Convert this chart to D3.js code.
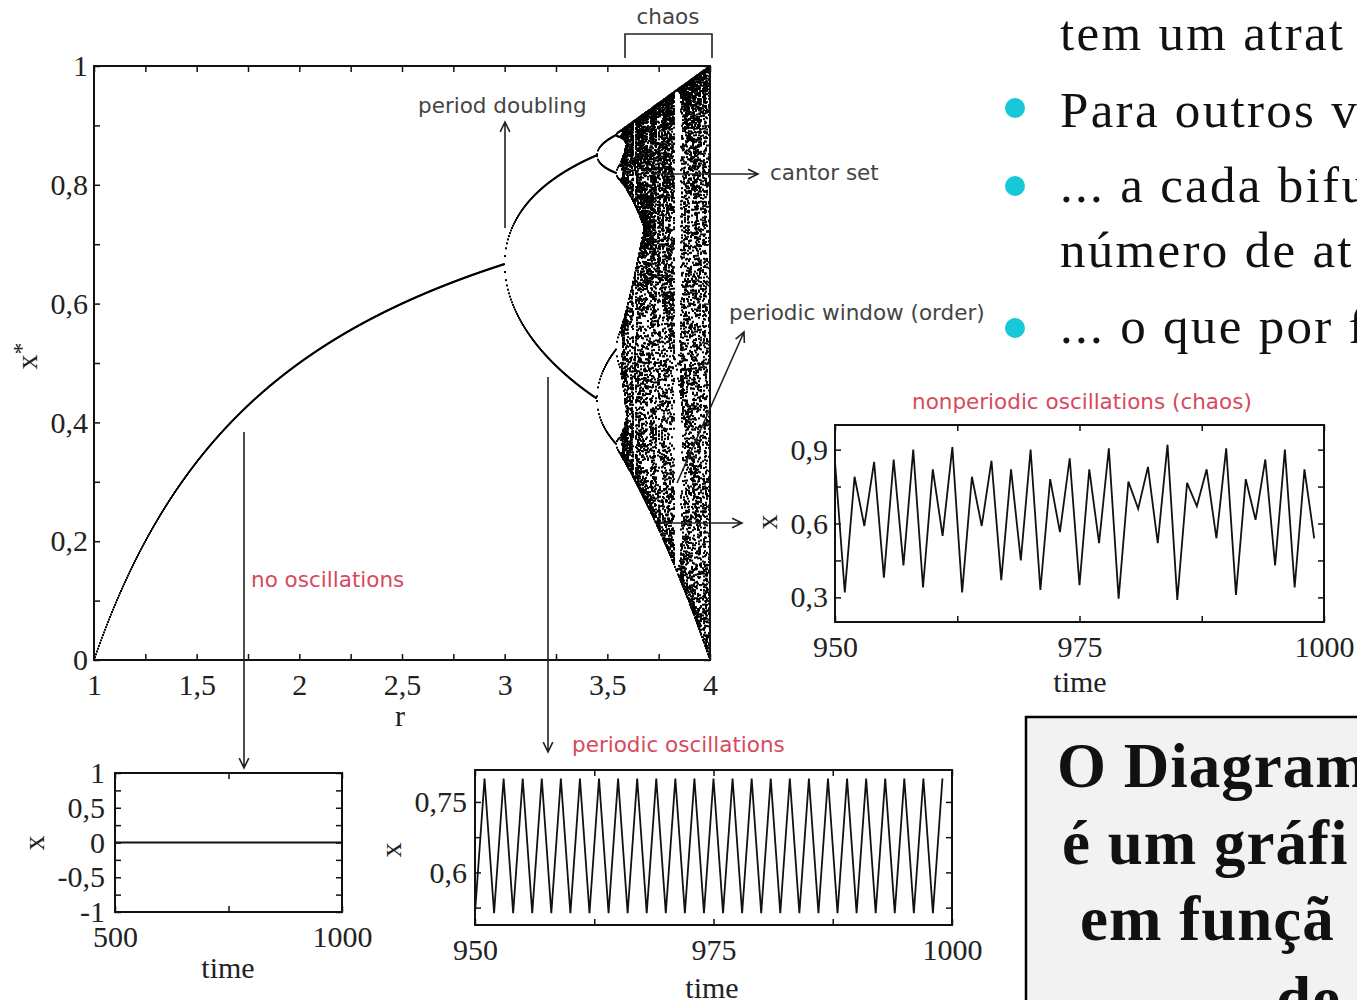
<!DOCTYPE html>
<html>
<head>
<meta charset="utf-8">
<script src="https://cdn.jsdelivr.net/npm/d3@7"></script>
<style>
body { margin: 0; background: #fff; overflow: hidden; }
svg { display: block; }
.tick text { font-family: "Liberation Serif", serif; font-size: 30px; fill: #222; }
.axis-title { font-family: "Liberation Serif", serif; font-size: 30px; fill: #222; }
.note { font-family: "DejaVu Sans", sans-serif; font-size: 21.5px; fill: #444; }
.note.red { fill: #d64a5c; }
.slide { font-family: "Liberation Serif", serif; font-size: 51px; fill: #111; letter-spacing: 2.3px; }
.boxtext { font-family: "Liberation Serif", serif; font-size: 63px; font-weight: bold; fill: #111; letter-spacing: 1px; }
</style>
</head>
<body>
<svg id="svg1"></svg>
<script>
// main diagram: logistic map x -> r x (1 - x)
const rDomain = [1, 4];
const xStarDomain = [0, 1];
const mainXTicks = [1, 1.25, 1.5, 1.75, 2, 2.25, 2.5, 2.75, 3, 3.25, 3.5, 3.75, 4];
const mainXLabels = [1, 1.5, 2, 2.5, 3, 3.5, 4];
const mainYTicks = [0, 0.1, 0.2, 0.3, 0.4, 0.5, 0.6, 0.7, 0.8, 0.9, 1];
const mainYLabels = [0, 0.2, 0.4, 0.6, 0.8, 1];
const transientSteps = 2000;
const keptSteps = 150;

// no oscillations (x = 0 from t = 500 to 1000)
const flatTime = [500, 1000];
const flatValues = [0, 0];
const flatXTicks = [500, 750, 1000];
const flatXLabels = [500, 1000];
const flatYTicks = [-1, -0.75, -0.5, -0.25, 0, 0.25, 0.5, 0.75, 1];
const flatYLabels = [-1, -0.5, 0, 0.5, 1];

// periodic oscillations, t = 950 .. 999
const periodicValues = [
  0.513, 0.80, 0.513, 0.80, 0.513, 0.80, 0.513, 0.80, 0.513, 0.80,
  0.513, 0.80, 0.513, 0.80, 0.513, 0.80, 0.513, 0.80, 0.513, 0.80,
  0.513, 0.80, 0.513, 0.80, 0.513, 0.80, 0.513, 0.80, 0.513, 0.80,
  0.513, 0.80, 0.513, 0.80, 0.513, 0.80, 0.513, 0.80, 0.513, 0.80,
  0.513, 0.80, 0.513, 0.80, 0.513, 0.80, 0.513, 0.80, 0.513, 0.80
];
const periodicYTicks = [0.525, 0.6, 0.675, 0.75];
const periodicYLabels = [0.6, 0.75];

// nonperiodic oscillations (chaos), t = 950 .. 999
const chaosValues = [
  0.85, 0.32, 0.79, 0.59, 0.85, 0.38, 0.86, 0.43, 0.90, 0.34,
  0.82, 0.55, 0.91, 0.32, 0.79, 0.59, 0.855, 0.37, 0.82, 0.45,
  0.90, 0.33, 0.78, 0.565, 0.865, 0.35, 0.82, 0.52, 0.905, 0.295,
  0.77, 0.66, 0.83, 0.52, 0.92, 0.29, 0.765, 0.67, 0.82, 0.54,
  0.905, 0.31, 0.78, 0.615, 0.86, 0.43, 0.90, 0.34, 0.82, 0.54
];
const chaosYTicks = [0.3, 0.45, 0.6, 0.75, 0.9];
const chaosYLabels = [0.3, 0.6, 0.9];

const timeTicks = [950, 962.5, 975, 987.5, 1000];
const timeLabels = [950, 975, 1000];
const startTime = 950;

// slide text
const slideLines = ["tem um atrat", "Para outros va", "... a cada bifu", "número de at", "... o que por f"];
const slideBullets = [false, true, true, false, true];
const boxLines = ["O Diagram", "é um gráfi", "em funçã", "de"];

const svg = d3.select('#svg1').attr('width', 1357).attr('height', 1000);

function fmt(v) {
    return String(+v.toFixed(3)).replace('.', ',');
}
function hasVal(list, v) {
    return list.some(l => Math.abs(l - v) < 1e-9);
}

function frame(x, y, o) {
    const g = svg.append('g');
    const [x0, x1] = x.range();
    const [y0, y1] = y.range();
    g.append('g').attr('transform', 'translate(0,' + y0 + ')')
        .call(d3.axisBottom(x).tickValues(o.xTicks).tickSize(-6).tickPadding(14)
            .tickFormat(v => hasVal(o.xLabels, v) ? fmt(v) : ''));
    g.append('g').attr('transform', 'translate(0,' + y1 + ')')
        .call(d3.axisTop(x).tickValues(o.xTicks).tickSize(-6).tickFormat(''));
    g.append('g').attr('transform', 'translate(' + x0 + ',0)')
        .call(d3.axisLeft(y).tickValues(o.yTicks).tickSize(-6).tickPadding(o.yPad || 8)
            .tickFormat(v => hasVal(o.yLabels, v) ? fmt(v) : ''));
    g.append('g').attr('transform', 'translate(' + x1 + ',0)')
        .call(d3.axisRight(y).tickValues(o.yTicks).tickSize(-6).tickFormat(''));
    g.selectAll('.domain').remove();
    g.selectAll('.tick line').attr('stroke', '#111').attr('stroke-width', 1.5);
    g.append('rect')
        .attr('x', x0).attr('y', y1)
        .attr('width', x1 - x0).attr('height', y0 - y1)
        .attr('fill', 'none').attr('stroke', '#111').attr('stroke-width', 2);
    return g;
}

function arrow(x1, y1, x2, y2) {
    const a = Math.atan2(y2 - y1, x2 - x1), h = 11, w = 0.45;
    const p = d3.path();
    p.moveTo(x1, y1); p.lineTo(x2, y2);
    p.moveTo(x2 - h * Math.cos(a - w), y2 - h * Math.sin(a - w));
    p.lineTo(x2, y2);
    p.lineTo(x2 - h * Math.cos(a + w), y2 - h * Math.sin(a + w));
    svg.append('path').attr('d', p.toString())
        .attr('fill', 'none').attr('stroke', '#222').attr('stroke-width', 1.6);
}

function note(txt, x, y, cls, anchor) {
    svg.append('text').attr('class', cls).attr('x', x).attr('y', y)
        .attr('text-anchor', anchor || 'start').text(txt);
}

function rotLabel(x, y) {
    const t = svg.append('text').attr('class', 'axis-title')
        .attr('transform', 'translate(' + x + ',' + y + ') rotate(-90)')
        .attr('text-anchor', 'middle').attr('dy', '0.3em');
    return t;
}

// ---------- main bifurcation diagram ----------
const rX = d3.scaleLinear().domain(rDomain).range([94, 710]);
const xsY = d3.scaleLinear().domain(xStarDomain).range([660, 66]);

const bif = [];
const nCols = 616;
for (let i = 0; i <= nCols; i++) {
    const r = rDomain[0] + (rDomain[1] - rDomain[0]) * i / nCols;
    let v = 0.31;
    for (let k = 0; k < transientSteps; k++) v = r * v * (1 - v);
    const seen = new Set();
    for (let k = 0; k < keptSteps; k++) {
        v = r * v * (1 - v);
        const key = Math.round(xsY(v));
        if (!seen.has(key)) { seen.add(key); bif.push({r: r, x: v}); }
    }
}

svg.append('g').selectAll('rect')
    .data(bif)
    .enter()
    .append('rect')
    .attr('x', d => rX(d.r) - 1)
    .attr('y', d => xsY(d.x) - 1)
    .attr('width', 2)
    .attr('height', 2)
    .attr('fill', '#000');

frame(rX, xsY, {xTicks: mainXTicks, xLabels: mainXLabels, yTicks: mainYTicks, yLabels: mainYLabels, yPad: 6});
svg.append('text').attr('class', 'axis-title').attr('x', 400).attr('y', 726)
    .attr('text-anchor', 'middle').text('r');
const xs = rotLabel(28, 356);
xs.append('tspan').text('x');
xs.append('tspan').attr('dy', '-0.35em').attr('font-size', '24px').text('*');

// ---------- no oscillations ----------
const fX = d3.scaleLinear().domain([500, 1000]).range([115, 342]);
const fY = d3.scaleLinear().domain([-1, 1]).range([912, 773]);
svg.append('path')
    .datum(flatTime.map((t, i) => [t, flatValues[i]]))
    .attr('d', d3.line().x(d => fX(d[0])).y(d => fY(d[1])))
    .attr('fill', 'none').attr('stroke', '#111').attr('stroke-width', 2);
frame(fX, fY, {xTicks: flatXTicks, xLabels: flatXLabels, yTicks: flatYTicks, yLabels: flatYLabels, yPad: 10});
svg.append('text').attr('class', 'axis-title').attr('x', 228).attr('y', 978)
    .attr('text-anchor', 'middle').text('time');
rotLabel(35, 843).text('x');

// ---------- periodic oscillations ----------
const pX = d3.scaleLinear().domain([950, 1000]).range([475, 952]);
const pY = d3.scaleLinear().domain([0.488, 0.818]).range([925, 770]);
svg.append('path')
    .datum(periodicValues)
    .attr('d', d3.line().x((d, i) => pX(startTime + i)).y(d => pY(d)))
    .attr('fill', 'none').attr('stroke', '#111').attr('stroke-width', 1.8);
frame(pX, pY, {xTicks: timeTicks, xLabels: timeLabels, yTicks: periodicYTicks, yLabels: periodicYLabels, yPad: 8});
svg.append('text').attr('class', 'axis-title').attr('x', 712).attr('y', 998)
    .attr('text-anchor', 'middle').text('time');
rotLabel(392, 850).text('x');

// ---------- chaos ----------
const cX = d3.scaleLinear().domain([950, 1000]).range([835, 1324]);
const cY = d3.scaleLinear().domain([0.2, 1.0]).range([622, 425]);
svg.append('path')
    .datum(chaosValues)
    .attr('d', d3.line().x((d, i) => cX(startTime + i)).y(d => cY(d)))
    .attr('fill', 'none').attr('stroke', '#111').attr('stroke-width', 1.8);
frame(cX, cY, {xTicks: timeTicks, xLabels: timeLabels, yTicks: chaosYTicks, yLabels: chaosYLabels, yPad: 7});
svg.append('text').attr('class', 'axis-title').attr('x', 1080).attr('y', 692)
    .attr('text-anchor', 'middle').text('time');
rotLabel(768, 522).text('x');

// ---------- annotations ----------
note('chaos', 668, 24, 'note', 'middle');
svg.append('path')
    .attr('d', 'M625,58V34H712V58')
    .attr('fill', 'none').attr('stroke', '#222').attr('stroke-width', 1.6);
note('period doubling', 418, 113, 'note');
arrow(505, 228, 505, 122);
note('cantor set', 770, 180, 'note');
arrow(652, 174, 758, 174);
note('periodic window (order)', 729, 320, 'note');
arrow(677, 483, 744, 332);
arrow(660, 523, 742, 523);
note('no oscillations', 251, 587, 'note red');
arrow(244, 432, 244, 768);
note('periodic oscillations', 572, 752, 'note red');
arrow(548, 377, 548, 752);
note('nonperiodic oscillations (chaos)', 912, 409, 'note red');

// ---------- slide text ----------
const slideY = [50, 127, 202, 267, 343];
const bulletY = [0, 108, 186, 0, 328];
slideLines.forEach(function(s, i) {
    svg.append('text').attr('class', 'slide').attr('x', 1060).attr('y', slideY[i]).text(s);
    if (slideBullets[i]) {
        svg.append('circle').attr('cx', 1015).attr('cy', bulletY[i]).attr('r', 10).attr('fill', '#17c9d8');
    }
});

svg.append('rect').attr('x', 1026).attr('y', 717).attr('width', 400).attr('height', 400)
    .attr('fill', '#f2f2f2').attr('stroke', '#000').attr('stroke-width', 2.5);
const boxX = [1057, 1062, 1080, 1276];
const boxY = [787, 864, 940, 1020];
boxLines.forEach(function(s, i) {
    svg.append('text').attr('class', 'boxtext').attr('x', boxX[i]).attr('y', boxY[i]).text(s);
});
</script>
</body>
</html>
